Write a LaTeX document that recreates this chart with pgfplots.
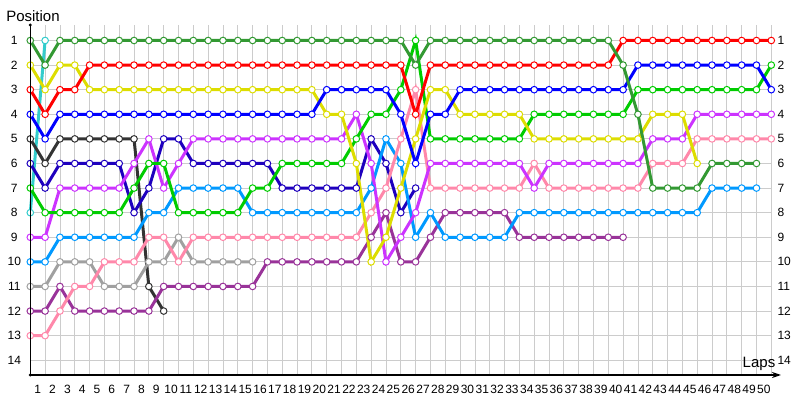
\documentclass[border=0pt]{standalone}
\usepackage{fontspec}
\setmainfont{Liberation Sans}
\usepackage{pgfplots}
\pgfplotsset{compat=1.18}
\usetikzlibrary{arrows.meta}

\definecolor{cDG}{RGB}{51,153,51}
\definecolor{cR}{RGB}{255,0,0}
\definecolor{cT}{RGB}{51,204,204}
\definecolor{cY}{RGB}{221,221,0}
\definecolor{cB}{RGB}{0,0,255}
\definecolor{cK}{RGB}{51,51,51}
\definecolor{cN}{RGB}{30,0,190}
\definecolor{cV}{RGB}{204,51,255}
\definecolor{cL}{RGB}{0,204,0}
\definecolor{cS}{RGB}{0,153,255}
\definecolor{cG}{RGB}{160,160,160}
\definecolor{cPK}{RGB}{255,136,170}
\definecolor{cP}{RGB}{153,51,153}

\pgfplotsset{
  lap/.style={draw=#1, line width=3bp, mark=*, mark size=3.3bp,
    mark options={fill=white, draw=#1, line width=1bp, solid}},
  tfont/.style={font=\fontsize{12bp}{12bp}\selectfont},
}

\begin{document}
\begin{tikzpicture}
\useasboundingbox (0,0) rectangle (800bp,400bp);
\begin{axis}[
  scale only axis, width=741bp, height=350bp,
  at={(30.3bp,25bp)}, anchor=south west,
  xmin=0, xmax=50, ymin=0.37, ymax=14.6, y dir=reverse,
  axis line style={draw=none},
  major tick length=0pt, minor tick length=0pt,
  xtick={0.5,1.5,...,49.5},
  xticklabels={1,2,3,4,5,6,7,8,9,10,11,12,13,14,15,16,17,18,19,20,21,22,23,24,25,26,27,28,29,30,31,32,33,34,35,36,37,38,39,40,41,42,43,44,45,46,47,48,49,50},
  minor xtick={0,1,...,50},
  xminorgrids, xmajorgrids=false,
  ytick={1,...,14}, ymajorgrids,
  grid style={draw=gray!40, line width=0.8bp},
  minor grid style={draw=gray!40, line width=0.8bp},
  /pgf/number format/assume math mode=true,
  tick label style={tfont},
  xticklabel style={anchor=center, yshift=-14bp},
  yticklabel style={anchor=center, xshift=-16bp},
  clip=false,
]
\addplot[lap=cT] coordinates {(0,8)(1,1)};
\addplot[lap=cK] coordinates {(0,5)(1,6)(2,5)(3,5)(4,5)(5,5)(6,5)(7,5)(8,11)(9,12)};
\addplot[lap=cG] coordinates {(0,11)(1,11)(2,10)(3,10)(4,10)(5,11)(6,11)(7,11)(8,10)(9,10)(10,9)(11,10)(12,10)(13,10)(14,10)(15,10)};
\addplot[lap=cN] coordinates {(0,6)(1,7)(2,6)(3,6)(4,6)(5,6)(6,6)(7,8)(8,7)(9,5)(10,5)(11,6)(12,6)(13,6)(14,6)(15,6)(16,6)(17,7)(18,7)(19,7)(20,7)(21,7)(22,7)(23,5)(24,6)(25,8)(26,7)};
\addplot[lap=cP] coordinates {(0,12)(1,12)(2,11)(3,12)(4,12)(5,12)(6,12)(7,12)(8,12)(9,11)(10,11)(11,11)(12,11)(13,11)(14,11)(15,11)(16,10)(17,10)(18,10)(19,10)(20,10)(21,10)(22,10)(23,9)(24,8)(25,10)(26,10)(27,9)(28,8)(29,8)(30,8)(31,8)(32,8)(33,9)(34,9)(35,9)(36,9)(37,9)(38,9)(39,9)(40,9)};
\addplot[lap=cS] coordinates {(0,10)(1,10)(2,9)(3,9)(4,9)(5,9)(6,9)(7,9)(8,8)(9,8)(10,7)(11,7)(12,7)(13,7)(14,7)(15,8)(16,8)(17,8)(18,8)(19,8)(20,8)(21,8)(22,8)(23,7)(24,5)(25,6)(26,9)(27,8)(28,9)(29,9)(30,9)(31,9)(32,9)(33,8)(34,8)(35,8)(36,8)(37,8)(38,8)(39,8)(40,8)(41,8)(42,8)(43,8)(44,8)(45,8)(46,7)(47,7)(48,7)(49,7)};
\addplot[lap=cPK] coordinates {(0,13)(1,13)(2,12)(3,11)(4,11)(5,10)(6,10)(7,10)(8,9)(9,9)(10,10)(11,9)(12,9)(13,9)(14,9)(15,9)(16,9)(17,9)(18,9)(19,9)(20,9)(21,9)(22,9)(23,8)(24,7)(25,5)(26,3)(27,7)(28,7)(29,7)(30,7)(31,7)(32,7)(33,7)(34,6)(35,7)(36,7)(37,7)(38,7)(39,7)(40,7)(41,7)(42,6)(43,6)(44,6)(45,5)(46,5)(47,5)(48,5)(49,5)(50,5)};
\addplot[lap=cV] coordinates {(0,9)(1,9)(2,7)(3,7)(4,7)(5,7)(6,7)(7,6)(8,5)(9,7)(10,6)(11,5)(12,5)(13,5)(14,5)(15,5)(16,5)(17,5)(18,5)(19,5)(20,5)(21,5)(22,4)(23,6)(24,10)(25,9)(26,8)(27,6)(28,6)(29,6)(30,6)(31,6)(32,6)(33,6)(34,7)(35,6)(36,6)(37,6)(38,6)(39,6)(40,6)(41,6)(42,5)(43,5)(44,5)(45,4)(46,4)(47,4)(48,4)(49,4)(50,4)};
\addplot[lap=cL] coordinates {(0,7)(1,8)(2,8)(3,8)(4,8)(5,8)(6,8)(7,7)(8,6)(9,6)(10,8)(11,8)(12,8)(13,8)(14,8)(15,7)(16,7)(17,6)(18,6)(19,6)(20,6)(21,6)(22,5)(23,4)(24,4)(25,3)(26,1)(27,5)(28,5)(29,5)(30,5)(31,5)(32,5)(33,5)(34,4)(35,4)(36,4)(37,4)(38,4)(39,4)(40,4)(41,3)(42,3)(43,3)(44,3)(45,3)(46,3)(47,3)(48,3)(49,3)(50,2)};
\addplot[lap=cY] coordinates {(0,2)(1,3)(2,2)(3,2)(4,3)(5,3)(6,3)(7,3)(8,3)(9,3)(10,3)(11,3)(12,3)(13,3)(14,3)(15,3)(16,3)(17,3)(18,3)(19,3)(20,4)(21,4)(22,6)(23,10)(24,9)(25,7)(26,5)(27,3)(28,3)(29,4)(30,4)(31,4)(32,4)(33,4)(34,5)(35,5)(36,5)(37,5)(38,5)(39,5)(40,5)(41,5)(42,4)(43,4)(44,4)(45,6)};
\addplot[lap=cB] coordinates {(0,4)(1,5)(2,4)(3,4)(4,4)(5,4)(6,4)(7,4)(8,4)(9,4)(10,4)(11,4)(12,4)(13,4)(14,4)(15,4)(16,4)(17,4)(18,4)(19,4)(20,3)(21,3)(22,3)(23,3)(24,3)(25,4)(26,6)(27,4)(28,4)(29,3)(30,3)(31,3)(32,3)(33,3)(34,3)(35,3)(36,3)(37,3)(38,3)(39,3)(40,3)(41,2)(42,2)(43,2)(44,2)(45,2)(46,2)(47,2)(48,2)(49,2)(50,3)};
\addplot[lap=cR] coordinates {(0,3)(1,4)(2,3)(3,3)(4,2)(5,2)(6,2)(7,2)(8,2)(9,2)(10,2)(11,2)(12,2)(13,2)(14,2)(15,2)(16,2)(17,2)(18,2)(19,2)(20,2)(21,2)(22,2)(23,2)(24,2)(25,2)(26,4)(27,2)(28,2)(29,2)(30,2)(31,2)(32,2)(33,2)(34,2)(35,2)(36,2)(37,2)(38,2)(39,2)(40,1)(41,1)(42,1)(43,1)(44,1)(45,1)(46,1)(47,1)(48,1)(49,1)(50,1)};
\addplot[lap=cDG] coordinates {(0,1)(1,2)(2,1)(3,1)(4,1)(5,1)(6,1)(7,1)(8,1)(9,1)(10,1)(11,1)(12,1)(13,1)(14,1)(15,1)(16,1)(17,1)(18,1)(19,1)(20,1)(21,1)(22,1)(23,1)(24,1)(25,1)(26,2)(27,1)(28,1)(29,1)(30,1)(31,1)(32,1)(33,1)(34,1)(35,1)(36,1)(37,1)(38,1)(39,1)(40,2)(41,4)(42,7)(43,7)(44,7)(45,7)(46,6)(47,6)(48,6)(49,6)};
\end{axis}
\begin{axis}[
  scale only axis, width=741bp, height=350bp,
  at={(30.3bp,25bp)}, anchor=south west,
  xmin=0, xmax=50, ymin=0.37, ymax=14.6, y dir=reverse,
  axis line style={draw=none},
  major tick length=0pt,
  xtick=\empty,
  ytick={1,...,14},
  yticklabel pos=right,
  /pgf/number format/assume math mode=true,
  tick label style={tfont},
  yticklabel style={anchor=west, inner sep=0pt, xshift=6bp},
]
\end{axis}
\draw[line width=1.5bp, -{Stealth[length=9bp,width=6bp]}] (30.3bp,25bp) -- (781bp,25bp);
\draw[line width=1.2bp] (30.3bp,25bp) -- (30.3bp,375bp);
\fill (30.3bp,375bp) circle (1.6bp);
\fill (30.3bp,25bp) circle (1.6bp);
\node[font=\fontsize{15bp}{15bp}\selectfont, anchor=center] at (33bp,384bp) {Position};
\node[font=\fontsize{15bp}{15bp}\selectfont, anchor=center] at (759bp,36bp) {Laps};
\end{tikzpicture}
\end{document}
